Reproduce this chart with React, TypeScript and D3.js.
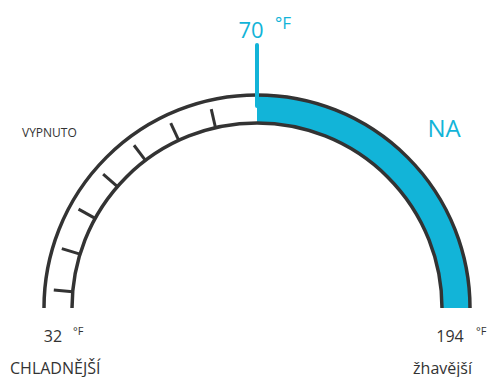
import React from "react";
import * as d3 from "d3";

const minTemp = 32;
const maxTemp = 194;
const setpoint = 70;
const unit = "°F";
const modeLabel = "VYPNUTO";
const stateLabel = "NA";
const coolerLabel = "CHLADNĚJŠÍ";
const hotterLabel = "žhavější";
// tick positions, as fraction of the half-circle (0 = left end, 1 = right end)
const tickFractions = [0.028, 0.094, 0.161, 0.228, 0.294, 0.361, 0.428];
const needleFraction = 0.5;

const W = 491;
const H = 377;
const cx = 257;
const cy = 308;
const rOuter = 213;
const rInner = 185;
const BLUE = "#12b4d8";
const DARK = "#333333";
const FONT = "'Open Sans', 'Noto Sans', sans-serif";

export default function App() {
  const angle = d3.scaleLinear().domain([0, 1]).range([-Math.PI / 2, Math.PI / 2]);
  const needleA = angle(needleFraction);
  const fillArc = d3.arc()({
    innerRadius: rInner,
    outerRadius: rOuter,
    startAngle: needleA,
    endAngle: angle(1),
  } as any) as string;
  const lineArc = (r: number) =>
    d3.arc()({ innerRadius: r, outerRadius: r, startAngle: angle(0), endAngle: angle(1) } as any) as string;
  const pt = (a: number, r: number) => [Math.sin(a) * r, -Math.cos(a) * r];
  const tickLen = 19;
  const nIn = pt(needleA, rOuter + 1);
  const nOut = pt(needleA, rOuter + 50);
  return (
    <svg width={W} height={H} style={{ position: "absolute", left: 0, top: 0 }}>
      <rect width={W} height={H} fill="#fff" />
      <g transform={`translate(${cx},${cy})`}>
        <path d={fillArc} fill={BLUE} />
        {tickFractions.map((f, i) => {
          const a = angle(f);
          const p1 = pt(a, rInner);
          const p2 = pt(a, rInner + tickLen);
          return <line key={i} x1={p1[0]} y1={p1[1]} x2={p2[0]} y2={p2[1]} stroke={DARK} strokeWidth={3} />;
        })}
        <path d={lineArc(rOuter)} fill="none" stroke={DARK} strokeWidth={3.5} />
        <path d={lineArc(rInner)} fill="none" stroke={DARK} strokeWidth={3.5} />
        <line x1={nIn[0]} y1={nIn[1] + 12} x2={nOut[0]} y2={nOut[1]} stroke={BLUE} strokeWidth={4} strokeLinecap="round" />
      </g>
      <g fontFamily={FONT}>
        <text x={251} y={38} fontSize={22} fill={BLUE} textAnchor="middle">{setpoint}</text>
        <text x={275} y={29} fontSize={17} fill={BLUE}>{unit}</text>
        <text x={444} y={137} fontSize={24} fill={BLUE} textAnchor="middle">{stateLabel}</text>
        <text x={22} y={137} fontSize={12} fill={DARK}>{modeLabel}</text>
        <text x={53} y={342} fontSize={16} fill={DARK} textAnchor="middle">{minTemp}</text>
        <text x={73} y={335} fontSize={11} fill={DARK}>{unit}</text>
        <text x={450} y={342} fontSize={16} fill={DARK} textAnchor="middle">{maxTemp}</text>
        <text x={476} y={335} fontSize={11} fill={DARK}>{unit}</text>
        <text x={10} y={374} fontSize={16} fill={DARK}>{coolerLabel}</text>
        <text x={472} y={374} fontSize={16} fill={DARK} textAnchor="end">{hotterLabel}</text>
      </g>
    </svg>
  );
}
